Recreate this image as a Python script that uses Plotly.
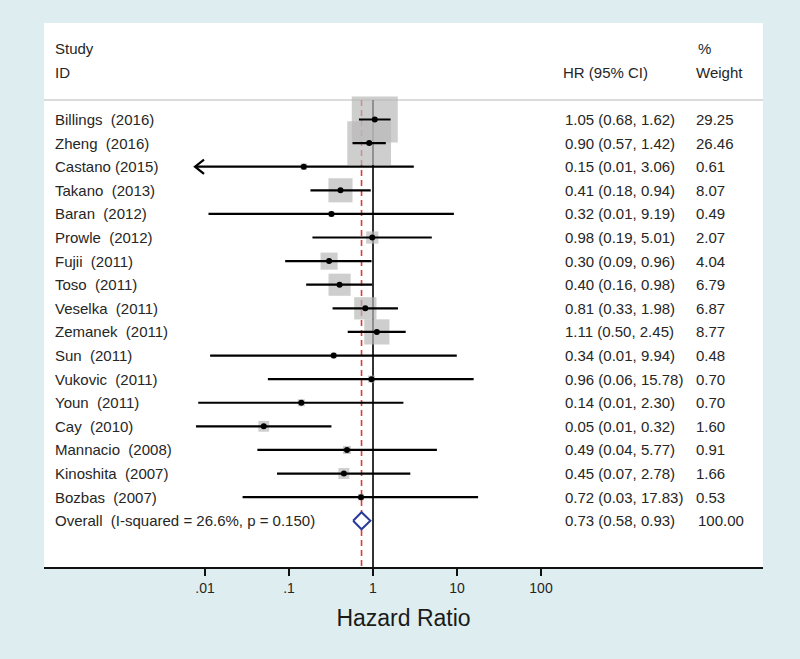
import numpy as np
import plotly.graph_objects as go

# ---------------- data ----------------
studies = ["Billings  (2016)", "Zheng  (2016)", "Castano (2015)", "Takano  (2013)",
           "Baran  (2012)", "Prowle  (2012)", "Fujii  (2011)", "Toso  (2011)",
           "Veselka  (2011)", "Zemanek  (2011)", "Sun  (2011)", "Vukovic  (2011)",
           "Youn  (2011)", "Cay  (2010)", "Mannacio  (2008)", "Kinoshita  (2007)",
           "Bozbas  (2007)"]
hr = [1.05, 0.90, 0.15, 0.41, 0.32, 0.98, 0.30, 0.40, 0.81, 1.11, 0.34, 0.96,
      0.14, 0.05, 0.49, 0.45, 0.72]
# lower / upper limits
ci_low = [0.68, 0.57, 0.006, 0.18, 0.011, 0.19, 0.09, 0.16, 0.33, 0.50, 0.0115,
          0.056, 0.0083, 0.0078, 0.042, 0.072, 0.028]
ci_high = [1.62, 1.42, 3.06, 0.94, 9.19, 5.01, 0.96, 0.98, 1.98, 2.45, 9.94,
           15.78, 2.30, 0.32, 5.77, 2.78, 17.83]
# printed (rounded) text values
ci_text = ["1.05 (0.68, 1.62)", "0.90 (0.57, 1.42)", "0.15 (0.01, 3.06)",
           "0.41 (0.18, 0.94)", "0.32 (0.01, 9.19)", "0.98 (0.19, 5.01)",
           "0.30 (0.09, 0.96)", "0.40 (0.16, 0.98)", "0.81 (0.33, 1.98)",
           "1.11 (0.50, 2.45)", "0.34 (0.01, 9.94)", "0.96 (0.06, 15.78)",
           "0.14 (0.01, 2.30)", "0.05 (0.01, 0.32)", "0.49 (0.04, 5.77)",
           "0.45 (0.07, 2.78)", "0.72 (0.03, 17.83)"]
weights = [29.25, 26.46, 0.61, 8.07, 0.49, 2.07, 4.04, 6.79, 6.87, 8.77, 0.48,
           0.70, 0.70, 1.60, 0.91, 1.66, 0.53]
weight_text = ["29.25", "26.46", "0.61", "8.07", "0.49", "2.07", "4.04", "6.79",
               "6.87", "8.77", "0.48", "0.70", "0.70", "1.60", "0.91", "1.66", "0.53"]

overall_label = "Overall  (I-squared = 26.6%, p = 0.150)"
overall_hr, overall_low, overall_high = 0.73, 0.58, 0.93
overall_text = "0.73 (0.58, 0.93)"
overall_weight = "100.00"

tick_vals = [0.01, 0.1, 1, 10, 100]
tick_text = [".01", ".1", "1", "10", "100"]
x_clip = 0.0076  # left limit where CIs are truncated with an arrow

# ---------------- layout constants ----------------
W, H = 800, 659
ML, MR, MT, MB = 44, 37, 23, 92
XR = [-3.917, 4.643]
YR = [18.96, -4.089]
TXT = "#262626"
BG = "#deedef"
FONT = "Liberation Sans, Arial, Helvetica, sans-serif"

n = len(studies)
rows = list(range(n))
ov_row = n
sep_row = -0.83

fig = go.Figure()

# null line at 1 and overall dashed line
fig.add_trace(go.Scatter(x=[1, 1], y=[sep_row, YR[0]], mode="lines",
                         line=dict(color="black", width=1.6), hoverinfo="skip"))
fig.add_trace(go.Scatter(x=[overall_hr, overall_hr], y=[sep_row, YR[0]], mode="lines",
                         line=dict(color="#dc3c3c", width=1.6, dash="6px,4px"),
                         hoverinfo="skip"))

# weight boxes
box_sizes = [8.5 * np.sqrt(w) for w in weights]
fig.add_trace(go.Scatter(x=hr, y=rows, mode="markers",
                         marker=dict(symbol="square", size=box_sizes, color="#b9b9b9",
                                     line=dict(width=0)),
                         hoverinfo="skip"))

# CI lines
xs, ys = [], []
arrows_x, arrows_y = [], []
for i in range(n):
    lo = max(ci_low[i], x_clip)
    xs += [lo, ci_high[i], None]
    ys += [i, i, None]
    if ci_low[i] < x_clip:
        dx = 10 ** (9 / 84.0)
        arrows_x += [x_clip * dx, x_clip, x_clip * dx, None]
        arrows_y += [i - 0.3, i, i + 0.3, None]
fig.add_trace(go.Scatter(x=xs, y=ys, mode="lines",
                         line=dict(color="black", width=2.2), hoverinfo="skip"))
fig.add_trace(go.Scatter(x=arrows_x, y=arrows_y, mode="lines",
                         line=dict(color="black", width=2.2), hoverinfo="skip"))

# point estimates
fig.add_trace(go.Scatter(x=hr, y=rows, mode="markers",
                         marker=dict(symbol="circle", size=6, color="black"),
                         hoverinfo="skip"))

# overall diamond
dh = 0.36
fig.add_trace(go.Scatter(x=[overall_low, overall_hr, overall_high, overall_hr, overall_low],
                         y=[ov_row, ov_row - dh, ov_row, ov_row + dh, ov_row],
                         mode="lines", fill="toself", fillcolor="white",
                         line=dict(color="#2b3a98", width=2), hoverinfo="skip"))

# separator
fig.add_shape(type="line", xref="paper", yref="y", x0=0, x1=1, y0=sep_row, y1=sep_row,
              line=dict(color="#cfcfcf", width=1.5), layer="below")

# ---------------- text columns ----------------
def px2paper(px):
    return (px - ML) / (W - ML - MR)

x_lab = px2paper(53)
x_hr = px2paper(563)
x_w = px2paper(694)

ann = []
def add_text(x, y, t):
    ann.append(dict(x=x, y=y, xref="paper", yref="y", text=t, showarrow=False,
                    xanchor="left", yanchor="middle",
                    font=dict(size=15, color=TXT, family=FONT)))

add_text(x_lab, -3, "Study")
add_text(x_lab, -2, "ID")
add_text(px2paper(561), -2, "HR (95% CI)")
add_text(px2paper(696), -3, "%")
add_text(x_w, -2, "Weight")
for i in range(n):
    add_text(x_lab, i, studies[i])
    add_text(x_hr, i, ci_text[i])
    add_text(x_w, i, weight_text[i])
add_text(x_lab, ov_row, overall_label)
add_text(x_hr, ov_row, overall_text)
add_text(px2paper(696), ov_row, overall_weight)

fig.update_layout(
    width=W, height=H,
    margin=dict(l=ML, r=MR, t=MT, b=MB),
    paper_bgcolor=BG,
    plot_bgcolor="white",
    showlegend=False,
    annotations=ann,
    font=dict(family=FONT, color=TXT),
    xaxis=dict(type="log", range=XR, showgrid=False, zeroline=False,
               showline=True, linecolor="#111111", linewidth=1.8,
               ticks="outside", ticklen=7, tickwidth=1.5, tickcolor="#111111",
               tickvals=tick_vals, ticktext=tick_text,
               tickfont=dict(size=14, color=TXT, family=FONT),
               title=dict(text="Hazard Ratio", font=dict(size=23, color="#1a1a1a", family=FONT),
                          standoff=15),
               fixedrange=True),
    yaxis=dict(range=YR, visible=False, fixedrange=True),
)

fig.write_html("out.html",
               config={"displayModeBar": False, "staticPlot": True},
               post_script="document.body.style.margin='0px';"
                           "document.body.style.background='" + BG + "';")
